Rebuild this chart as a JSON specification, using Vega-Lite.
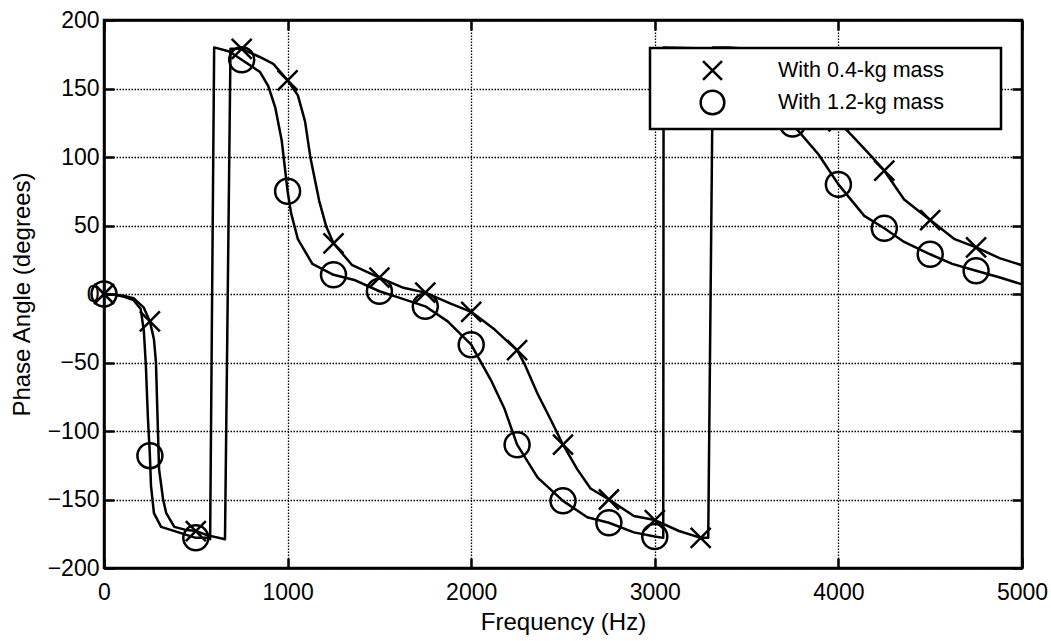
{
  "$schema": "https://vega.github.io/schema/vega-lite/v6.json",
  "width": 918,
  "height": 548,
  "autosize": {"type": "none"},
  "padding": {"left": 104, "top": 20, "right": 29, "bottom": 73},
  "background": "white",
  "config": {
    "font": "Liberation Sans",
    "view": {"stroke": "black", "strokeWidth": 2.5},
    "legend": {"strokeWidth": 2.5},
    "axis": {
      "labelFont": "Liberation Sans",
      "titleFont": "Liberation Sans",
      "labelFontSize": 23,
      "titleFontSize": 24,
      "titleFontWeight": "normal",
      "labelColor": "black",
      "titleColor": "black",
      "domainColor": "black",
      "domainWidth": 2.5,
      "tickColor": "black",
      "tickWidth": 2.5,
      "tickSize": -10,
      "gridColor": "black",
      "gridDash": [1.5, 1.5],
      "gridWidth": 1.3,
      "gridOpacity": 1,
      "labelFlush": false,
      "labelOverlap": false
    }
  },
  "datasets": {
    "curves": [
      {"mass": "With 0.4-kg mass", "freq": 0, "phase": 0},
      {"mass": "With 0.4-kg mass", "freq": 60, "phase": -0.5},
      {"mass": "With 0.4-kg mass", "freq": 110, "phase": -1.5},
      {"mass": "With 0.4-kg mass", "freq": 161, "phase": -3},
      {"mass": "With 0.4-kg mass", "freq": 217, "phase": -10},
      {"mass": "With 0.4-kg mass", "freq": 250, "phase": -20},
      {"mass": "With 0.4-kg mass", "freq": 272, "phase": -33},
      {"mass": "With 0.4-kg mass", "freq": 283, "phase": -50},
      {"mass": "With 0.4-kg mass", "freq": 294, "phase": -101},
      {"mass": "With 0.4-kg mass", "freq": 300, "phase": -128},
      {"mass": "With 0.4-kg mass", "freq": 322, "phase": -150},
      {"mass": "With 0.4-kg mass", "freq": 339, "phase": -160},
      {"mass": "With 0.4-kg mass", "freq": 383, "phase": -170},
      {"mass": "With 0.4-kg mass", "freq": 440, "phase": -172},
      {"mass": "With 0.4-kg mass", "freq": 500, "phase": -173},
      {"mass": "With 0.4-kg mass", "freq": 561, "phase": -176},
      {"mass": "With 0.4-kg mass", "freq": 659, "phase": -179},
      {"mass": "With 0.4-kg mass", "freq": 689, "phase": 179},
      {"mass": "With 0.4-kg mass", "freq": 750, "phase": 179},
      {"mass": "With 0.4-kg mass", "freq": 848, "phase": 173},
      {"mass": "With 0.4-kg mass", "freq": 922, "phase": 168},
      {"mass": "With 0.4-kg mass", "freq": 1000, "phase": 156},
      {"mass": "With 0.4-kg mass", "freq": 1056, "phase": 145},
      {"mass": "With 0.4-kg mass", "freq": 1095, "phase": 126},
      {"mass": "With 0.4-kg mass", "freq": 1125, "phase": 99},
      {"mass": "With 0.4-kg mass", "freq": 1172, "phase": 68},
      {"mass": "With 0.4-kg mass", "freq": 1211, "phase": 49},
      {"mass": "With 0.4-kg mass", "freq": 1250, "phase": 37},
      {"mass": "With 0.4-kg mass", "freq": 1352, "phase": 21},
      {"mass": "With 0.4-kg mass", "freq": 1500, "phase": 12},
      {"mass": "With 0.4-kg mass", "freq": 1631, "phase": 4.5},
      {"mass": "With 0.4-kg mass", "freq": 1750, "phase": 1},
      {"mass": "With 0.4-kg mass", "freq": 1888, "phase": -7},
      {"mass": "With 0.4-kg mass", "freq": 2000, "phase": -13},
      {"mass": "With 0.4-kg mass", "freq": 2128, "phase": -26},
      {"mass": "With 0.4-kg mass", "freq": 2200, "phase": -35},
      {"mass": "With 0.4-kg mass", "freq": 2250, "phase": -41},
      {"mass": "With 0.4-kg mass", "freq": 2290, "phase": -51},
      {"mass": "With 0.4-kg mass", "freq": 2362, "phase": -73},
      {"mass": "With 0.4-kg mass", "freq": 2434, "phase": -92},
      {"mass": "With 0.4-kg mass", "freq": 2500, "phase": -110},
      {"mass": "With 0.4-kg mass", "freq": 2578, "phase": -128},
      {"mass": "With 0.4-kg mass", "freq": 2650, "phase": -142},
      {"mass": "With 0.4-kg mass", "freq": 2750, "phase": -150},
      {"mass": "With 0.4-kg mass", "freq": 2886, "phase": -162},
      {"mass": "With 0.4-kg mass", "freq": 3000, "phase": -165},
      {"mass": "With 0.4-kg mass", "freq": 3132, "phase": -173},
      {"mass": "With 0.4-kg mass", "freq": 3250, "phase": -178},
      {"mass": "With 0.4-kg mass", "freq": 3291, "phase": -178},
      {"mass": "With 0.4-kg mass", "freq": 3317, "phase": 180},
      {"mass": "With 0.4-kg mass", "freq": 3400, "phase": 180},
      {"mass": "With 0.4-kg mass", "freq": 3500, "phase": 179},
      {"mass": "With 0.4-kg mass", "freq": 3600, "phase": 176},
      {"mass": "With 0.4-kg mass", "freq": 3700, "phase": 170},
      {"mass": "With 0.4-kg mass", "freq": 3800, "phase": 158},
      {"mass": "With 0.4-kg mass", "freq": 3900, "phase": 144},
      {"mass": "With 0.4-kg mass", "freq": 4000, "phase": 126},
      {"mass": "With 0.4-kg mass", "freq": 4100, "phase": 112},
      {"mass": "With 0.4-kg mass", "freq": 4176, "phase": 101},
      {"mass": "With 0.4-kg mass", "freq": 4250, "phase": 90},
      {"mass": "With 0.4-kg mass", "freq": 4358, "phase": 69},
      {"mass": "With 0.4-kg mass", "freq": 4500, "phase": 54},
      {"mass": "With 0.4-kg mass", "freq": 4633, "phase": 40},
      {"mass": "With 0.4-kg mass", "freq": 4750, "phase": 34},
      {"mass": "With 0.4-kg mass", "freq": 4881, "phase": 26},
      {"mass": "With 0.4-kg mass", "freq": 5000, "phase": 21},

      {"mass": "With 1.2-kg mass", "freq": 0, "phase": 0},
      {"mass": "With 1.2-kg mass", "freq": 60, "phase": -0.5},
      {"mass": "With 1.2-kg mass", "freq": 110, "phase": -2},
      {"mass": "With 1.2-kg mass", "freq": 161, "phase": -4.5},
      {"mass": "With 1.2-kg mass", "freq": 200, "phase": -11},
      {"mass": "With 1.2-kg mass", "freq": 217, "phase": -27},
      {"mass": "With 1.2-kg mass", "freq": 228, "phase": -52},
      {"mass": "With 1.2-kg mass", "freq": 239, "phase": -90},
      {"mass": "With 1.2-kg mass", "freq": 250, "phase": -118},
      {"mass": "With 1.2-kg mass", "freq": 256, "phase": -140},
      {"mass": "With 1.2-kg mass", "freq": 272, "phase": -160},
      {"mass": "With 1.2-kg mass", "freq": 311, "phase": -170},
      {"mass": "With 1.2-kg mass", "freq": 406, "phase": -174},
      {"mass": "With 1.2-kg mass", "freq": 500, "phase": -178},
      {"mass": "With 1.2-kg mass", "freq": 561, "phase": -178},
      {"mass": "With 1.2-kg mass", "freq": 578, "phase": -179},
      {"mass": "With 1.2-kg mass", "freq": 600, "phase": 180},
      {"mass": "With 1.2-kg mass", "freq": 683, "phase": 177},
      {"mass": "With 1.2-kg mass", "freq": 750, "phase": 171},
      {"mass": "With 1.2-kg mass", "freq": 850, "phase": 162},
      {"mass": "With 1.2-kg mass", "freq": 894, "phase": 152},
      {"mass": "With 1.2-kg mass", "freq": 933, "phase": 136},
      {"mass": "With 1.2-kg mass", "freq": 968, "phase": 112},
      {"mass": "With 1.2-kg mass", "freq": 1000, "phase": 75},
      {"mass": "With 1.2-kg mass", "freq": 1019, "phase": 59},
      {"mass": "With 1.2-kg mass", "freq": 1056, "phase": 40},
      {"mass": "With 1.2-kg mass", "freq": 1135, "phase": 22},
      {"mass": "With 1.2-kg mass", "freq": 1250, "phase": 14},
      {"mass": "With 1.2-kg mass", "freq": 1369, "phase": 10},
      {"mass": "With 1.2-kg mass", "freq": 1500, "phase": 2},
      {"mass": "With 1.2-kg mass", "freq": 1615, "phase": -3},
      {"mass": "With 1.2-kg mass", "freq": 1750, "phase": -9},
      {"mass": "With 1.2-kg mass", "freq": 1872, "phase": -20},
      {"mass": "With 1.2-kg mass", "freq": 2000, "phase": -37},
      {"mass": "With 1.2-kg mass", "freq": 2108, "phase": -63},
      {"mass": "With 1.2-kg mass", "freq": 2182, "phase": -84},
      {"mass": "With 1.2-kg mass", "freq": 2250, "phase": -110},
      {"mass": "With 1.2-kg mass", "freq": 2362, "phase": -134},
      {"mass": "With 1.2-kg mass", "freq": 2500, "phase": -151},
      {"mass": "With 1.2-kg mass", "freq": 2632, "phase": -163},
      {"mass": "With 1.2-kg mass", "freq": 2750, "phase": -167},
      {"mass": "With 1.2-kg mass", "freq": 2886, "phase": -174},
      {"mass": "With 1.2-kg mass", "freq": 3000, "phase": -177},
      {"mass": "With 1.2-kg mass", "freq": 3046, "phase": -178},
      {"mass": "With 1.2-kg mass", "freq": 3048, "phase": 180},
      {"mass": "With 1.2-kg mass", "freq": 3330, "phase": 179},
      {"mass": "With 1.2-kg mass", "freq": 3400, "phase": 175},
      {"mass": "With 1.2-kg mass", "freq": 3500, "phase": 166},
      {"mass": "With 1.2-kg mass", "freq": 3600, "phase": 152},
      {"mass": "With 1.2-kg mass", "freq": 3700, "phase": 135},
      {"mass": "With 1.2-kg mass", "freq": 3750, "phase": 124},
      {"mass": "With 1.2-kg mass", "freq": 3891, "phase": 102},
      {"mass": "With 1.2-kg mass", "freq": 4000, "phase": 80},
      {"mass": "With 1.2-kg mass", "freq": 4141, "phase": 57},
      {"mass": "With 1.2-kg mass", "freq": 4250, "phase": 48},
      {"mass": "With 1.2-kg mass", "freq": 4358, "phase": 38},
      {"mass": "With 1.2-kg mass", "freq": 4500, "phase": 29},
      {"mass": "With 1.2-kg mass", "freq": 4620, "phase": 22},
      {"mass": "With 1.2-kg mass", "freq": 4750, "phase": 17},
      {"mass": "With 1.2-kg mass", "freq": 4880, "phase": 12},
      {"mass": "With 1.2-kg mass", "freq": 5000, "phase": 7}
    ],
    "markers": [
      {"mass": "With 0.4-kg mass", "freq": 0, "phase": 0},
      {"mass": "With 0.4-kg mass", "freq": 250, "phase": -20},
      {"mass": "With 0.4-kg mass", "freq": 500, "phase": -173},
      {"mass": "With 0.4-kg mass", "freq": 750, "phase": 179},
      {"mass": "With 0.4-kg mass", "freq": 1000, "phase": 156},
      {"mass": "With 0.4-kg mass", "freq": 1250, "phase": 37},
      {"mass": "With 0.4-kg mass", "freq": 1500, "phase": 12},
      {"mass": "With 0.4-kg mass", "freq": 1750, "phase": 1},
      {"mass": "With 0.4-kg mass", "freq": 2000, "phase": -13},
      {"mass": "With 0.4-kg mass", "freq": 2250, "phase": -41},
      {"mass": "With 0.4-kg mass", "freq": 2500, "phase": -110},
      {"mass": "With 0.4-kg mass", "freq": 2750, "phase": -150},
      {"mass": "With 0.4-kg mass", "freq": 3000, "phase": -165},
      {"mass": "With 0.4-kg mass", "freq": 3250, "phase": -178},
      {"mass": "With 0.4-kg mass", "freq": 4000, "phase": 126},
      {"mass": "With 0.4-kg mass", "freq": 4250, "phase": 90},
      {"mass": "With 0.4-kg mass", "freq": 4500, "phase": 54},
      {"mass": "With 0.4-kg mass", "freq": 4750, "phase": 34},
      {"mass": "With 1.2-kg mass", "freq": 0, "phase": 0},
      {"mass": "With 1.2-kg mass", "freq": 250, "phase": -118},
      {"mass": "With 1.2-kg mass", "freq": 500, "phase": -178},
      {"mass": "With 1.2-kg mass", "freq": 750, "phase": 171},
      {"mass": "With 1.2-kg mass", "freq": 1000, "phase": 75},
      {"mass": "With 1.2-kg mass", "freq": 1250, "phase": 14},
      {"mass": "With 1.2-kg mass", "freq": 1500, "phase": 2},
      {"mass": "With 1.2-kg mass", "freq": 1750, "phase": -9},
      {"mass": "With 1.2-kg mass", "freq": 2000, "phase": -37},
      {"mass": "With 1.2-kg mass", "freq": 2250, "phase": -110},
      {"mass": "With 1.2-kg mass", "freq": 2500, "phase": -151},
      {"mass": "With 1.2-kg mass", "freq": 2750, "phase": -167},
      {"mass": "With 1.2-kg mass", "freq": 3000, "phase": -177},
      {"mass": "With 1.2-kg mass", "freq": 3750, "phase": 124},
      {"mass": "With 1.2-kg mass", "freq": 4000, "phase": 80},
      {"mass": "With 1.2-kg mass", "freq": 4250, "phase": 48},
      {"mass": "With 1.2-kg mass", "freq": 4500, "phase": 29},
      {"mass": "With 1.2-kg mass", "freq": 4750, "phase": 17}
    ]
  },
  "layer": [
    {
      "data": {"name": "curves"},
      "mark": {"type": "line", "color": "black", "strokeWidth": 2.5, "strokeJoin": "round"},
      "encoding": {
        "x": {
          "field": "freq", "type": "quantitative",
          "scale": {"domain": [0, 5000], "nice": false, "zero": false},
          "axis": {
            "orient": "bottom",
            "values": [0, 1000, 2000, 3000, 4000, 5000],
            "format": "d",
            "title": "Frequency (Hz)",
            "grid": true,
            "labelPadding": 23,
            "titlePadding": 6
          }
        },
        "y": {
          "field": "phase", "type": "quantitative",
          "scale": {"domain": [-200, 200], "nice": false, "zero": false},
          "axis": {
            "orient": "left",
            "values": [-200, -150, -100, -50, 0, 50, 100, 150, 200],
            "format": "d",
            "title": "Phase Angle (degrees)",
            "grid": true,
            "labelPadding": 15,
            "titlePadding": 13
          }
        },
        "detail": {"field": "mass", "type": "nominal"}
      }
    },
    {
      "data": {"name": "markers"},
      "mark": {"type": "point", "filled": false, "stroke": "black", "strokeWidth": 2.5, "size": 625, "opacity": 1},
      "encoding": {
        "x": {
          "field": "freq", "type": "quantitative",
          "axis": {
            "orient": "top",
            "values": [0, 1000, 2000, 3000, 4000, 5000],
            "labels": false, "title": null, "grid": false
          }
        },
        "y": {
          "field": "phase", "type": "quantitative",
          "axis": {
            "orient": "right",
            "values": [-200, -150, -100, -50, 0, 50, 100, 150, 200],
            "labels": false, "title": null, "grid": false
          }
        },
        "shape": {
          "field": "mass", "type": "nominal",
          "scale": {
            "domain": ["With 0.4-kg mass", "With 1.2-kg mass"],
            "range": ["M-0.8,-0.8L0.8,0.8M-0.8,0.8L0.8,-0.8", "circle"]
          },
          "legend": {
            "orient": "none",
            "legendX": 546,
            "legendY": 28,
            "title": null,
            "fillColor": "white",
            "strokeColor": "black",
            "padding": 9,
            "symbolOffset": 40,
            "labelOffset": 52,
            "rowPadding": 0,
            "symbolSize": 560,
            "symbolStrokeWidth": 2.5,
            "symbolStrokeColor": "black",
            "symbolFillColor": "transparent",
            "labelFont": "Liberation Sans",
            "labelFontSize": 21.5,
            "labelLimit": 400,
            "labelColor": "black",
            "labelExpr": "datum.label + '\u00a0\u00a0\u00a0\u00a0\u00a0\u00a0\u00a0\u00a0\u200b'"
          }
        }
      }
    }
  ],
  "resolve": {"axis": {"x": "independent", "y": "independent"}}
}
